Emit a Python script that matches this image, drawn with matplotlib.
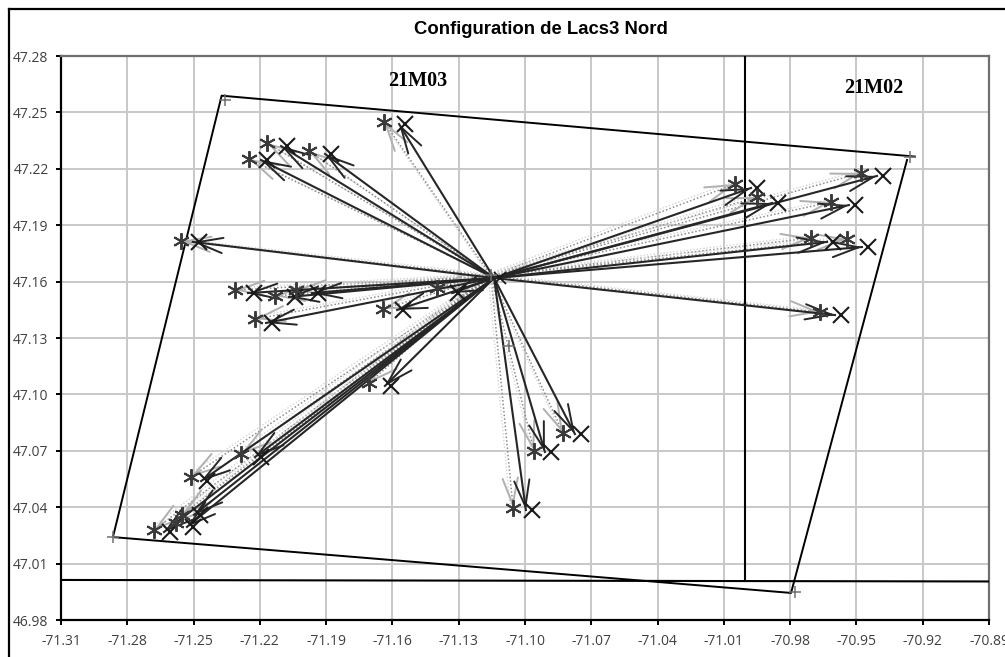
import matplotlib
matplotlib.use('Agg')
import matplotlib.pyplot as plt
from matplotlib.lines import Line2D
from matplotlib.transforms import offset_copy

x_ticks = [-71.31, -71.28, -71.25, -71.22, -71.19, -71.16, -71.13, -71.10, -71.07, -71.04, -71.01, -70.98, -70.95, -70.92, -70.89]
y_ticks = [46.98, 47.01, 47.04, 47.07, 47.10, 47.13, 47.16, 47.19, 47.22, 47.25, 47.28]

center_lon = -71.1140
center_lat = 47.1619
grey_center_lon = -71.1154
grey_center_lat = 47.1630

# end points of the black arrows
arrow_lon = [-71.1570, -71.2104, -71.1905, -71.2195, -71.2503, -71.2254, -71.2068, -71.1964, -71.1330,
             -71.1579, -71.2172, -70.9977, -70.9882, -70.9407, -70.9534, -70.9633, -70.9475, -70.9597,
             -71.1634, -71.2466, -71.2222, -71.2634, -71.2530, -71.2498, -71.0996, -71.0910, -71.0774]
arrow_lat = [47.2438, 47.2321, 47.2279, 47.2247, 47.1811, 47.1539, 47.1518, 47.1539, 47.1539,
             47.1449, 47.1380, 47.2098, 47.2018, 47.2162, 47.2007, 47.1811, 47.1784, 47.1422,
             47.1045, 47.0539, 47.0667, 47.0268, 47.0295, 47.0359, 47.0385, 47.0694, 47.0789]

# end points of the grey dotted arrows
grey_lon = [-71.1638, -71.2168, -71.1978, -71.2249, -71.2557, -71.2313, -71.2132, -71.2036, -71.1398,
            -71.1643, -71.2222, -71.0050, -70.9950, -70.9479, -70.9615, -70.9706, -70.9543, -70.9665,
            -71.1706, -71.2512, -71.2285, -71.2679, -71.2580, -71.2552, -71.1054, -71.0959, -71.0828]
grey_lat = [47.2449, 47.2337, 47.2295, 47.2252, 47.1816, 47.1555, 47.1523, 47.1555, 47.1566,
            47.1454, 47.1401, 47.2119, 47.2050, 47.2178, 47.2023, 47.1832, 47.1827, 47.1438,
            47.1061, 47.0561, 47.0683, 47.0279, 47.0316, 47.0359, 47.0396, 47.0699, 47.0795]

# outline of the lake area
outline_lon = [-70.9235, -71.2373, -71.2865, -70.9796, -70.9271]
outline_lat = [47.2265, 47.2589, 47.0241, 46.9944, 47.2247]

corner_lon = [-71.2358, -70.9258, -70.9778, -71.2865, -71.1072, -71.1154]
corner_lat = [47.2566, 47.2263, 46.9949, 47.0241, 47.1257, 47.1635]

sheet_v_lon = [-71.0004, -71.0004]
sheet_v_lat = [47.28, 47.0010]
sheet_h_lon = [-71.31, -70.89]
sheet_h_lat = [47.0013, 47.0005]

W, H = 1005, 657
fig = plt.figure(figsize=(W / 100, H / 100), dpi=100)
ax = fig.add_axes([61 / W, 1 - 620 / H, 928 / W, 564 / H])


def draw_arrow(lon, lat, from_lon, from_lat, colour):
    # very short arrow near the tip, so that the head stays solid
    back_lon = lon + 0.03 * (from_lon - lon)
    back_lat = lat + 0.03 * (from_lat - lat)
    ax.annotate('', xy=(lon, lat), xytext=(back_lon, back_lat),
                arrowprops=dict(arrowstyle='->,head_length=1.9,head_width=0.55', color=colour, lw=1.4,
                                shrinkA=0, shrinkB=0, mutation_scale=10), zorder=4)


light_shift = offset_copy(ax.transData, fig=fig, x=-3, y=2, units='dots')
for lon, lat in zip(grey_lon, grey_lat):
    ax.plot([grey_center_lon, lon], [grey_center_lat, lat], color='#d4d4d4', lw=1.0, ls=(0, (1, 1.4)),
            transform=light_shift, zorder=3)
    ax.plot([grey_center_lon, lon], [grey_center_lat, lat], color='#8c8c8c', lw=1.1, ls=(0, (1, 1.4)), zorder=3)
    draw_arrow(lon, lat, grey_center_lon, grey_center_lat, '#b0b0b0')

for lon, lat in zip(arrow_lon, arrow_lat):
    ax.plot([center_lon, lon], [center_lat, lat], color='#262626', lw=1.5, zorder=4)
    draw_arrow(lon, lat, center_lon, center_lat, '#262626')

ax.plot(outline_lon, outline_lat, color='black', lw=1.4, zorder=3)
ax.plot(sheet_v_lon, sheet_v_lat, color='black', lw=1.5, zorder=3)
ax.plot(sheet_h_lon, sheet_h_lat, color='black', lw=1.5, zorder=3)

x_shift = offset_copy(ax.transData, fig=fig, x=6, y=0, units='dots')
ax.plot(arrow_lon, arrow_lat, ls='none', marker='x', ms=11.5, mew=1.5, color='#1a1a1a', transform=x_shift, zorder=5)
ax.plot([center_lon], [center_lat], ls='none', marker='x', ms=8, mew=1.3, color='#1a1a1a', transform=x_shift, zorder=5)
ax.plot(grey_lon, grey_lat, ls='none', marker=(6, 2, 0), ms=12, mew=1.4, color='#3a3a3a', zorder=5)
ax.plot(corner_lon, corner_lat, ls='none', marker='+', ms=8, mew=1.1, color='#707070', zorder=5)

ax.set_xlim(-71.31, -70.89)
ax.set_ylim(46.98, 47.28)
ax.set_xticks(x_ticks)
ax.set_yticks(y_ticks)
ax.set_xticklabels(['%.2f' % v for v in x_ticks], family='Open Sans', fontsize=10, color='#404040')
ax.set_yticklabels(['%.2f' % v for v in y_ticks], family='Open Sans', fontsize=10, color='#404040')
ax.tick_params(length=3.5, width=1.4, color='black')
ax.tick_params(axis='x', pad=6.5)
ax.tick_params(axis='y', pad=5.5)
ax.grid(True, color='#c8c8c8', lw=1.4)
ax.set_axisbelow(True)

ax.spines['left'].set_linewidth(1.6)
ax.spines['bottom'].set_linewidth(1.6)
ax.spines['top'].set_linewidth(1.6)
ax.spines['right'].set_linewidth(1.6)
ax.spines['top'].set_color('#707070')
ax.spines['right'].set_color('#707070')

ax.text(-71.1484, 47.2667, '21M03', family='Liberation Serif', weight='bold', fontsize=14.5, ha='center', va='center')
ax.text(-70.9420, 47.2630, '21M02', family='Liberation Serif', weight='bold', fontsize=14.5, ha='center', va='center')

fig.text(540.5 / W, 1 - 29.5 / H, 'Configuration de Lacs3 Nord', family='Liberation Sans', weight='bold',
         fontsize=13.3, ha='center', va='center')

# chart frame runs off the picture at the right and bottom
fig.add_artist(Line2D([8.5 / W, 8.5 / W], [0, 1 - 8.5 / H], color='black', lw=1.6))
fig.add_artist(Line2D([8.5 / W, 1], [1 - 8.5 / H, 1 - 8.5 / H], color='black', lw=1.6))

fig.savefig('out.png', dpi=100)
